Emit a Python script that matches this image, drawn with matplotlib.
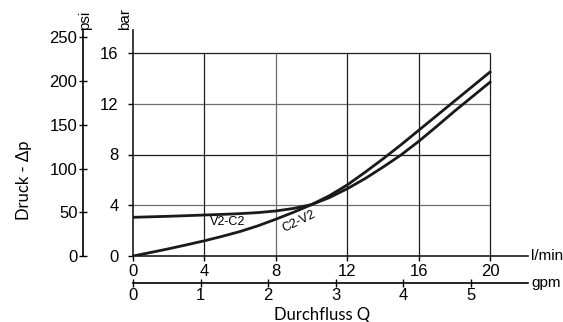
import numpy as np
import matplotlib
matplotlib.use('Agg')
import matplotlib.pyplot as plt

# Data, flow in l/min, pressure in bar
flow = np.array([0, 1, 2, 3, 4, 5, 6, 7, 8, 9, 10, 11, 12, 13, 14, 15, 16, 17, 18, 19, 20])
dp_v2_c2 = np.array([3.05, 3.09, 3.13, 3.18, 3.23, 3.28, 3.34, 3.42, 3.55, 3.75, 4.05,
                     4.6, 5.3, 6.1, 7.0, 7.95, 9.03, 10.2, 11.4, 12.55, 13.7])
dp_c2_v2 = np.array([0.0, 0.28, 0.57, 0.88, 1.2, 1.55, 1.93, 2.38, 2.9, 3.45, 4.05,
                     4.75, 5.6, 6.6, 7.65, 8.75, 9.9, 11.05, 12.2, 13.35, 14.5])

bar_ticks = [0, 4, 8, 12, 16]
lmin_ticks = [0, 4, 8, 12, 16, 20]
psi_ticks = [0, 50, 100, 150, 200, 250]
gpm_ticks = [0, 1, 2, 3, 4, 5]

PSI_PER_BAR = 14.5038
LMIN_PER_GPM = 3.78541

plt.rcParams['font.family'] = ['Liberation Sans', 'DejaVu Sans']
plt.rcParams['font.size'] = 12

W, H = 563, 322
fig = plt.figure(figsize=(W / 100, H / 100), dpi=100)

# main axes in pixel terms: x 133..528, y 256..30 (from top)
x0, x1, y0, y1 = 133, 528, 256, 30
ax = fig.add_axes([x0 / W, (H - y0) / H, (x1 - x0) / W, (y0 - y1) / H])
ax.set_xlim(0, 20 * (x1 - x0) / 357)
ax.set_ylim(0, 16 * (y0 - y1) / 203)

for s in ['top', 'right']:
    ax.spines[s].set_visible(False)
for s in ['left', 'bottom']:
    ax.spines[s].set_linewidth(1.2)
    ax.spines[s].set_color('#1a1a1a')

# grid
ax.hlines([4, 12], 0, 20, color='#6e6e6e', lw=0.9, zorder=1)
ax.hlines([8, 16], 0, 20, color='#1f1f1f', lw=0.9, zorder=1)
ax.vlines([4, 12, 16, 20], 0, 16, color='#1f1f1f', lw=0.9, zorder=1)
ax.vlines([8], 0, 16, color='#6e6e6e', lw=0.9, zorder=1)

# curves
ax.plot(flow, dp_v2_c2, color='#1a1a1a', lw=2.0, zorder=3)
ax.plot(flow, dp_c2_v2, color='#1a1a1a', lw=2.0, zorder=3)
ax.text(5.32, 2.68, 'V2-C2', fontsize=9, ha='center', va='center')
ax.text(9.3, 2.75, 'C2-V2', fontsize=9, ha='center', va='center', rotation=26)

ax.set_xticks(lmin_ticks)
ax.set_yticks(bar_ticks)
ax.tick_params(axis='x', direction='out', length=3.5, width=1, pad=2, labelsize=12)
ax.tick_params(axis='y', direction='out', length=3.5, width=1, pad=7, labelsize=12)

# psi axis
axh = y0 - y1
axw = x1 - x0
psi = ax.secondary_yaxis((83 - x0) / axw, functions=(lambda b: b * PSI_PER_BAR, lambda p: p / PSI_PER_BAR))
psi.set_yticks(psi_ticks)
psi.tick_params(direction='inout', length=6, width=1, pad=1, labelsize=12)
psi.spines['left'].set_linewidth(1.2)

# gpm axis
gpm = ax.secondary_xaxis(-(282.7 - y0) / axh, functions=(lambda q: q / LMIN_PER_GPM, lambda g: g * LMIN_PER_GPM))
gpm.set_xticks(gpm_ticks)
gpm.tick_params(direction='inout', length=6, width=1, pad=1, labelsize=12)
gpm.spines['bottom'].set_linewidth(1.2)

# unit labels
ax.text(1.0 + 3 / axw, 0, 'l/min', transform=ax.transAxes, ha='left', va='center', fontsize=11)
ax.text(1.0 + 3 / axw, -(282.7 - y0) / axh, 'gpm', transform=ax.transAxes, ha='left', va='center', fontsize=11)
ax.text(-1 / axw, 1.0, 'bar', transform=ax.transAxes, ha='right', va='bottom', rotation=90, fontsize=11)
ax.text((85 - x0) / axw, 1.0, 'psi', transform=ax.transAxes, ha='center', va='bottom', rotation=90, fontsize=11)

# axis titles
fig.text(322 / W, 1 - 315 / H, 'Durchfluss Q', ha='center', va='center', fontsize=12, family=['Lato', 'DejaVu Sans'])
fig.text(24 / W, 1 - 180 / H, 'Druck - Δp', ha='center', va='center', rotation=90, fontsize=12, family=['Lato', 'DejaVu Sans'])

fig.savefig('out.png', dpi=100)
